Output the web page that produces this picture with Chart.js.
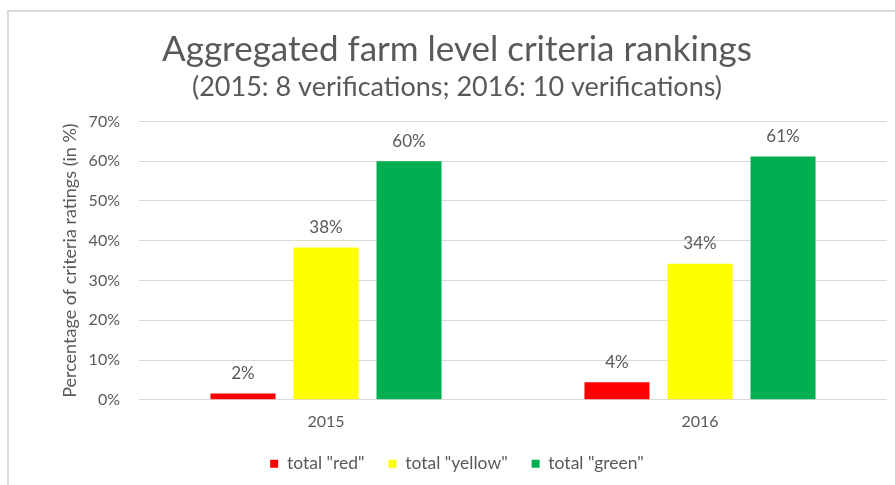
<!DOCTYPE html>
<html>
<head>
<meta charset="utf-8">
<script src="https://cdn.jsdelivr.net/npm/chart.js@4.4.0/dist/chart.umd.min.js"></script>
<style>
  html, body { margin: 0; padding: 0; background: #fff; overflow: hidden; }
  #frame { position: absolute; left: 7px; top: 10px; width: 900px; height: 490px;
           border-left: 2px solid #d9d9d9; border-top: 2px solid #d9d9d9; }
  #wrap { position: absolute; left: 0; top: 0; width: 895px; height: 485px; }
</style>
</head>
<body>
<div id="frame"></div>
<div id="wrap"><canvas id="barChart"></canvas></div>
<script>
var years = ['2015', '2016'];
var redValues = [1.6, 4.4];
var yellowValues = [38.3, 34.2];
var greenValues = [60.0, 61.2];
var redLabels = ['2%', '4%'];
var yellowLabels = ['38%', '34%'];
var greenLabels = ['60%', '61%'];

var grey = '#595959';
var fontFamily = 'Lato, "Open Sans", sans-serif';

// draws the value labels above each bar
var barLabels = {
    id: 'barLabels',
    afterDatasetsDraw: function(chart) {
        var ctx = chart.ctx;
        ctx.save();
        ctx.fillStyle = grey;
        ctx.font = '17px ' + fontFamily;
        ctx.textAlign = 'center';
        ctx.textBaseline = 'middle';
        chart.data.datasets.forEach(function(ds, i) {
            var meta = chart.getDatasetMeta(i);
            meta.data.forEach(function(bar, j) {
                ctx.fillText(ds.valueLabels[j], bar.x, bar.y - 20);
            });
        });
        ctx.restore();
    }
};

var ctx = document.getElementById('barChart').getContext('2d');
var myChart = new Chart(ctx, {
    type: 'bar',
    data: {
        labels: years,
        datasets: [{
            label: 'total "red"',
            data: redValues,
            valueLabels: redLabels,
            backgroundColor: '#ff0000'
        }, {
            label: 'total "yellow"',
            data: yellowValues,
            valueLabels: yellowLabels,
            backgroundColor: '#ffff00'
        }, {
            label: 'total "green"',
            data: greenValues,
            valueLabels: greenLabels,
            backgroundColor: '#00b050'
        }]
    },
    options: {
        responsive: true,
        maintainAspectRatio: false,
        animation: false,
        categoryPercentage: 0.666,
        barPercentage: 0.783,
        layout: { padding: { left: 27, right: 8, top: 10, bottom: 2.5 } },
        plugins: {
            title: {
                display: true,
                text: 'Aggregated farm level criteria rankings',
                color: grey,
                font: { family: fontFamily, size: 35, weight: 'normal' },
                padding: { top: 19, bottom: 0 }
            },
            subtitle: {
                display: true,
                text: '(2015: 8 verifications; 2016: 10 verifications)',
                color: grey,
                font: { family: fontFamily, size: 27, weight: 'normal' },
                padding: { top: 0, bottom: 18 }
            },
            legend: {
                position: 'bottom',
                labels: {
                    color: grey,
                    font: { family: fontFamily, size: 17.5 },
                    boxWidth: 8,
                    boxHeight: 8,
                    padding: 24
                }
            },
            tooltip: { enabled: false }
        },
        scales: {
            x: {
                grid: { display: false, tickLength: 12 },
                border: { display: false },
                ticks: { color: grey, font: { family: fontFamily, size: 16 }, padding: 0 }
            },
            y: {
                min: 0,
                max: 70,
                border: { display: false },
                grid: { color: '#d9d9d9', drawTicks: false },
                ticks: {
                    stepSize: 10,
                    color: grey,
                    font: { family: fontFamily, size: 16 },
                    padding: 19,
                    callback: function(v) { return v + '%'; }
                },
                title: {
                    display: true,
                    text: 'Percentage of criteria ratings (in %)',
                    color: grey,
                    font: { family: fontFamily, size: 18 },
                    padding: { top: 32, bottom: -11 }
                }
            }
        }
    },
    plugins: [barLabels]
});
</script>
</body>
</html>
